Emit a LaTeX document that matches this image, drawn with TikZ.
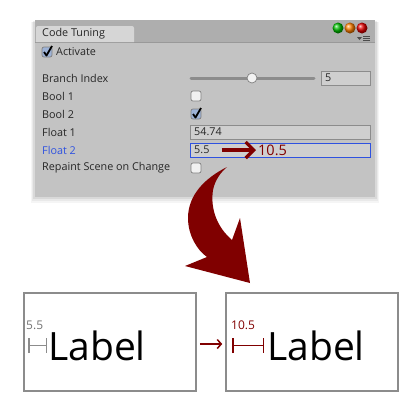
\documentclass[tikz,border=0pt]{standalone}
\usepackage{fontspec}
\setmainfont{Open Sans}
\usetikzlibrary{arrows.meta}
\definecolor{darkred}{HTML}{800000}
\definecolor{panelgray}{HTML}{C3C3C3}
\definecolor{headgray}{HTML}{AEAEAE}
\definecolor{tabgray}{HTML}{D6D6D6}
\definecolor{fieldgray}{HTML}{CFCFCF}
\definecolor{uiblue}{HTML}{2F52E0}
\definecolor{tickblue}{HTML}{9DB2D6}

\begin{document}
\begin{tikzpicture}[x=1bp,y=-1bp,
    uitext/.style={anchor=west,inner sep=0,font=\uifontsize,text=black!85},
    field/.style={draw=black!45,fill=fieldgray,line width=0.8bp,anchor=west,minimum height=14bp,inner sep=0},
    tickbox/.style={draw=black!50,fill=black!6,rounded corners=2bp,line width=0.7bp,minimum size=10bp,inner sep=0},
    tickmark/.style={line width=1.8bp,line join=round,black},
    labelbox/.style={draw=black!45,line width=1.5bp,minimum width=172bp,minimum height=98bp,inner sep=0},
    bigtext/.style={anchor=base west,inner sep=0,font=\labelfontsize}]
    \providecommand{\uifontsize}{\fontsize{10.8bp}{12bp}\selectfont}
    \providecommand{\valfontsize}{\fontsize{14.5bp}{16bp}\selectfont}
    \providecommand{\smallfontsize}{\fontsize{12bp}{14bp}\selectfont}
    \providecommand{\labelfontsize}{\fontsize{39bp}{44bp}\selectfont}
    \useasboundingbox (0,0) rectangle (420,420);
    % inspector window, soft shadow first
    \fill[black,opacity=0.04] (31,22) rectangle (379,203);
    \fill[black,opacity=0.05] (32,22) rectangle (378,201);
    \fill[black,opacity=0.07] (33,21) rectangle (377,199);
    \fill[panelgray] (35,20) rectangle (375,197);
    \fill[headgray] (35,20) rectangle (375,42);
    \draw[black!40] (35,42) -- (375,42);
    \fill[tabgray,rounded corners=2bp] (36,42) -- (36,26) -- (134,26) -- (134,42);
    \node[uitext] (tab) at (42,34) {Code Tuning};
    \shade[ball color=green!75!black] (338,28) circle (5.5);
    \shade[ball color=orange] (350,28) circle (5.5);
    \shade[ball color=red!90!black] (362,28) circle (5.5);
    \fill[black!70] (357,37) -- (362,37) -- (359.5,40) -- cycle;
    \draw[black!70,line width=0.8bp] (363,36.5) -- (370,36.5) (363,38.5) -- (370,38.5) (363,40.5) -- (370,40.5);
    % rows
    \node[tickbox,fill=tickblue] (actbox) at (47,52) {};
    \draw[tickmark] ([shift={(-3,0)}]actbox.center) -- ([shift={(-0.5,3.5)}]actbox.center) -- ([shift={(5,-6)}]actbox.center);
    \node[uitext] (act) at (56,52) {Activate};
    \node[uitext] (branch) at (42,78) {Branch Index};
    \draw[black!45,line width=3bp,line cap=round] (191,78) -- (314,78);
    \node[circle,draw=black!50,fill=black!5,minimum size=10bp,inner sep=0,line width=0.7bp] (knob) at (252,78) {};
    \node[field,minimum width=49bp] (branchfield) at (321,78) {};
    \node[uitext] (branchval) at ([xshift=4bp]branchfield.west) {5};
    \node[uitext] (bool1) at (42,96) {Bool 1};
    \node[tickbox] (bool1box) at (196,96) {};
    \node[uitext] (bool2) at (42,114) {Bool 2};
    \node[tickbox,fill=tickblue] (bool2box) at (196,114) {};
    \draw[tickmark] ([shift={(-3,0)}]bool2box.center) -- ([shift={(-0.5,3.5)}]bool2box.center) -- ([shift={(5,-6)}]bool2box.center);
    \node[uitext] (float1) at (42,132) {Float 1};
    \node[field,minimum width=180bp] (float1field) at (190,132) {};
    \node[uitext] (float1val) at ([xshift=4bp]float1field.west) {54.74};
    \node[uitext,text=uiblue] (float2) at (42,150) {Float 2};
    \node[field,draw=uiblue,minimum width=180bp] (float2field) at (190,150) {};
    \node[uitext] (f2old) at ([xshift=4bp]float2field.west) {5.5};
    \node[anchor=west,inner sep=0,font=\valfontsize,text=darkred] (f2new) at (258,150) {10.5};
    \draw[darkred,line width=3.2bp,-{Straight Barb[length=8bp,width=16bp]}] ([xshift=12bp]f2old.east) -- ([xshift=-2bp]f2new.west);
    \node[uitext] (repaint) at (42,168) {Repaint Scene on Change};
    \node[tickbox] (repaintbox) at (196,168) {};
    % big arrow
    \fill[darkred] (227,167) .. controls (205,178) and (188,195) .. (188,218)
        .. controls (188,235) and (197,250) .. (207,257) -- (185,266) -- (250,283) -- (240,218) -- (232,240)
        .. controls (218,228) and (210,210) .. (213,190) .. controls (215,180) and (221,172) .. (227,167) -- cycle;
    % label boxes
    \node[labelbox] (oldbox) at (110,342) {};
    \node[labelbox] (newbox) at (312,342) {};
    \draw[darkred,line width=1.5bp,-{Straight Barb[length=4bp,width=9bp]}] ([shift={(3,2)}]oldbox.east) -- ([shift={(-3,2)}]newbox.west);
    \node[anchor=west,inner sep=0,font=\smallfontsize,text=black!55] (oldval) at (26,325) {5.5};
    \draw[black!45,line width=1.5bp,{Bar[width=15bp]}-{Bar[width=15bp]}] (28,345.5) -- (47,345.5);
    \node[bigtext] (oldlabel) at (48,360) {Label};
    \node[anchor=west,inner sep=0,font=\smallfontsize,text=darkred] (newval) at (231,325) {10.5};
    \draw[darkred,line width=1.5bp,{Bar[width=15bp]}-{Bar[width=15bp]}] (232,345.5) -- (264,345.5);
    \node[bigtext] (newlabel) at (267,360) {Label};
\end{tikzpicture}
\end{document}
